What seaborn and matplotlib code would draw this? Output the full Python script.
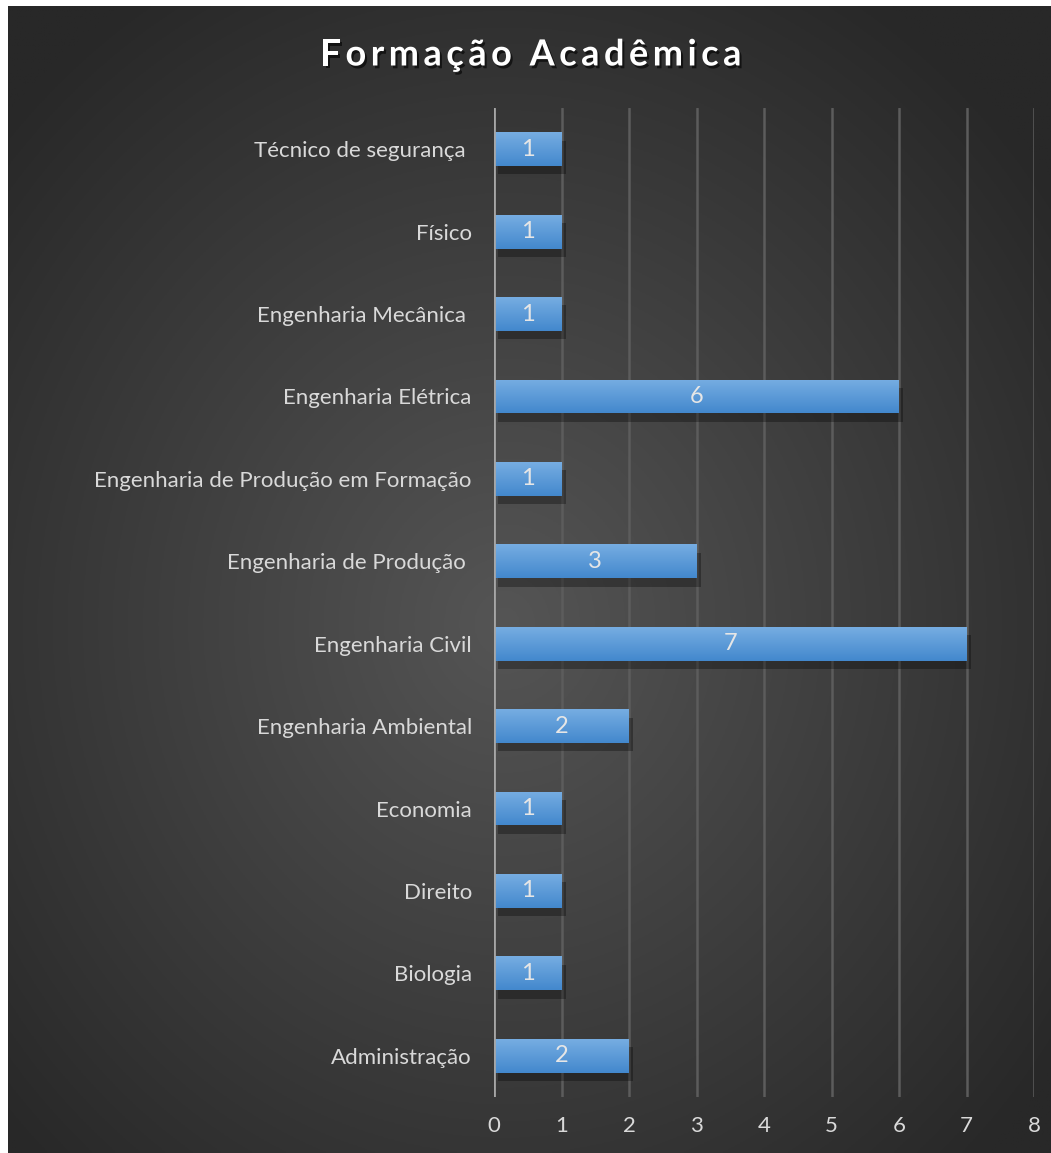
import numpy as np
import pandas as pd
import matplotlib
matplotlib.use("Agg")
import matplotlib.pyplot as plt
import matplotlib.patheffects as pe
from matplotlib import font_manager
from matplotlib.ft2font import FT2Font
import seaborn as sns

categories = ["Técnico de segurança ", "Físico", "Engenharia Mecânica ", "Engenharia Elétrica",
              "Engenharia de Produção em Formação", "Engenharia de Produção ", "Engenharia Civil",
              "Engenharia Ambiental", "Economia", "Direito", "Biologia", "Administração"]
values = [1, 1, 1, 6, 1, 3, 7, 2, 1, 1, 1, 2]
x_ticks = [0, 1, 2, 3, 4, 5, 6, 7, 8]
title = "Formação Acadêmica"

df = pd.DataFrame({"cat": categories, "val": values})

sns.set_theme(style="dark")
plt.rcParams['font.family'] = ['Lato', 'DejaVu Sans']

W, H = 1051, 1153
fig = plt.figure(figsize=(W / 100, H / 100), dpi=100)
fig.patch.set_facecolor("white")

# background with radial gradient
bg = fig.add_axes([8 / W, 0, 1 - 8 / W, 1 - 6 / H])
bg.set_axis_off()
yy, xx = np.mgrid[0:400, 0:400]
cx, cy = 190, 215
r = np.sqrt(((xx - cx) / 200) ** 2 + ((yy - cy) / 200) ** 2)
r = np.clip(r / 1.3, 0, 1)
c0 = np.array([0x55, 0x55, 0x55]) / 255
c1 = np.array([0x28, 0x28, 0x28]) / 255
img = c0[None, None, :] * (1 - r[..., None]) + c1[None, None, :] * r[..., None]
bg.imshow(img, aspect="auto", extent=[0, 1, 0, 1], origin="upper")
bg.set_xlim(0, 1)
bg.set_ylim(0, 1)

ax = fig.add_axes([494 / W, 56 / H, (1034 - 494) / W, (1097 - 108) / H])
ax.patch.set_alpha(0)
sns.barplot(data=df, x="val", y="cat", orient="h", color="#5b9bd5", width=0.41,
            ax=ax, saturation=1, zorder=3, linewidth=0, edgecolor="none")

ax.set_xlim(0, 8)
ax.set_xticks(x_ticks)
ax.set_xlabel("")
ax.set_ylabel("")
for s in ax.spines.values():
    s.set_visible(False)
ax.grid(False)
for t in x_ticks[1:]:
    ax.axvline(t, color="#5c5c5c", lw=1.8, zorder=1)
ax.axvline(0, color="#a6a6a6", lw=2, zorder=6)

ax.tick_params(axis="x", colors="#d9d9d9", labelsize=16, length=0, pad=14)
ax.tick_params(axis="y", colors="#d9d9d9", labelsize=16, length=0, pad=16)

# gradient fill and shadow for bars
grad = np.linspace(0, 1, 64)[:, None]
top = np.array([0x76, 0xad, 0xe2]) / 255
bot = np.array([0x43, 0x88, 0xcd]) / 255
gimg = top[None, None, :] * (1 - grad[..., None]) + bot[None, None, :] * grad[..., None]
gimg = np.repeat(gimg, 2, axis=1)
for p in ax.patches:
    x0, y0 = p.get_x(), p.get_y()
    w, h = p.get_width(), p.get_height()
    p.set_path_effects([pe.SimplePatchShadow(offset=(3, -6), shadow_rgbFace="black", alpha=0.3),
                        pe.Normal()])
    im = ax.imshow(gimg, extent=[x0, x0 + w, y0 + h, y0], aspect="auto", zorder=4,
                   origin="upper")
    im.set_clip_path(p)
ax.set_ylim(len(categories) - 0.5, -0.5)
ax.set_xlim(0, 8)

for i, v in enumerate(values):
    ax.text(v / 2, i, str(v), ha="center", va="center", color="#e6e6e6", fontsize=17, zorder=7)

# letter-spaced title
fs = 26
fp = font_manager.FontProperties(family="Lato", weight="bold", size=fs)
fpath = font_manager.findfont(fp)
ft = FT2Font(fpath)
ft.set_size(fs, 100)
advs = []
for ch in title:
    g = ft.load_char(ord(ch))
    advs.append(g.linearHoriAdvance / 65536)
sp = 4.5
total = sum(advs) + sp * (len(title) - 1)
x = 531 - total / 2
for ch, a in zip(title, advs):
    fig.text(x / W, 1 - 55 / H, ch, ha="left", va="center", color="white",
             fontproperties=fp,
             path_effects=[pe.withSimplePatchShadow(offset=(1.5, -2), shadow_rgbFace="black", alpha=0.6)])
    x += a + sp

fig.savefig("out.png", dpi=100, facecolor=fig.get_facecolor())
